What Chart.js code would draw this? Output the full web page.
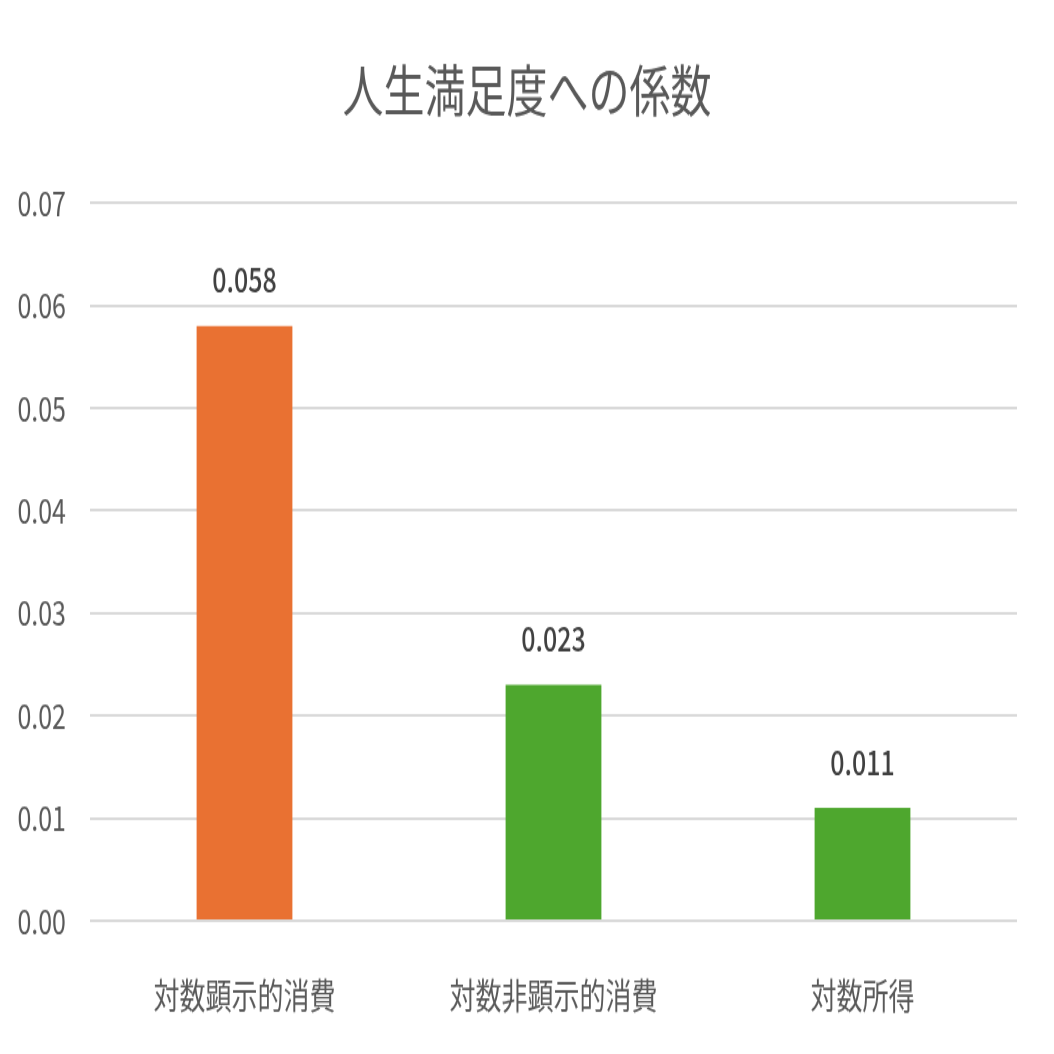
<!DOCTYPE html>
<html>
<head>
<meta charset="utf-8">
<script src="https://cdn.jsdelivr.net/npm/chart.js@4/dist/chart.umd.min.js"></script>
<style>
  html, body { margin: 0; padding: 0; background: #fff; overflow: hidden; }
  /* the chart is drawn 1054x775 and stretched to full height, like the original */
  #chart { display: block; width: 1054px !important; height: 1054px !important; }
</style>
</head>
<body>
<canvas id="chart" width="1054" height="775"></canvas>
<script>
// data
const categories = ["対数顕示的消費", "対数非顕示的消費", "対数所得"];
const coefficients = [0.058, 0.023, 0.011];
const barColors = ["#E97132", "#4EA72E", "#4EA72E"];
const yTicks = [0, 0.01, 0.02, 0.03, 0.04, 0.05, 0.06, 0.07];

const fontFamily = "'Noto Sans CJK JP', 'Noto Sans', sans-serif";

// value labels above the bars
const barLabels = {
  id: "barLabels",
  afterDatasetsDraw(chart) {
    const ctx = chart.ctx;
    const meta = chart.getDatasetMeta(0);
    ctx.save();
    ctx.font = "500 25px " + fontFamily;
    ctx.fillStyle = "#404040";
    ctx.textAlign = "center";
    ctx.textBaseline = "middle";
    meta.data.forEach(function (bar, i) {
      ctx.fillText(coefficients[i].toFixed(3), bar.x, bar.y - 34);
    });
    ctx.restore();
  }
};

new Chart(document.getElementById("chart"), {
  type: "bar",
  data: {
    labels: categories,
    datasets: [{
      data: coefficients,
      backgroundColor: barColors,
      barPercentage: 0.31,
      categoryPercentage: 1
    }]
  },
  options: {
    responsive: false,
    devicePixelRatio: 1,
    animation: false,
    layout: { padding: 0 },
    plugins: {
      legend: { display: false },
      tooltip: { enabled: false },
      title: {
        display: true,
        text: "人生満足度への係数",
        color: "#595959",
        font: { family: fontFamily, size: 41, weight: "normal" },
        padding: { top: 42, bottom: 58 }
      }
    },
    scales: {
      x: {
        grid: { display: false },
        border: { display: false },
        ticks: {
          color: "#595959",
          font: { family: fontFamily, size: 26 },
          padding: 32
        },
        afterFit(scale) { scale.height = 98; }
      },
      y: {
        min: 0,
        max: 0.07,
        afterBuildTicks(scale) {
          scale.ticks = yTicks.map(v => ({ value: v }));
        },
        ticks: {
          color: "#595959",
          font: { family: fontFamily, size: 25 },
          padding: 24,
          callback: v => v.toFixed(2)
        },
        grid: { color: "#d9d9d9", lineWidth: 2, drawTicks: false },
        border: { display: false },
        afterFit(scale) { scale.width = 90; }
      },
      // empty right margin so the title stays centred on the page
      yRight: {
        position: "right",
        grid: { display: false },
        border: { display: false },
        ticks: { display: false },
        afterFit(scale) { scale.width = 37; }
      }
    }
  },
  plugins: [barLabels]
});
</script>
</body>
</html>
